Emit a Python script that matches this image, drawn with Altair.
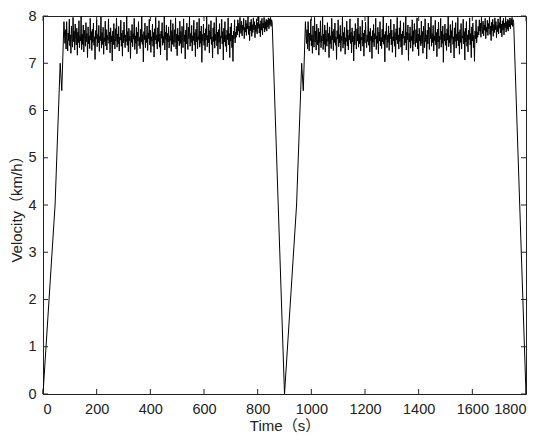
import altair as alt
import pandas as pd

# ---- data -----------------------------------------------------------------
# start-up ramp of one cycle (time s, velocity km/h)
ramp_t = [0, 45, 64, 70, 78]
ramp_v = [0.0, 4.0, 7.0, 6.42, 7.88]

# noisy cruising part of one cycle, sampled every 2 s from 82 s to 854 s
cruise_v = [
    7.42, 7.71, 7.30, 7.88, 7.55, 7.26, 7.64, 7.48, 7.93, 7.37, 7.60, 7.21, 7.79, 7.52, 7.34, 7.97, 7.45, 7.68, 7.28, 7.83,
    7.50, 7.39, 7.74, 7.17, 7.66, 7.44, 7.90, 7.33, 7.58, 7.47, 7.99, 7.29, 7.62, 7.40, 7.81, 7.24, 7.70, 7.53, 7.36, 7.86,
    7.46, 7.63, 7.12, 7.77, 7.41, 7.58, 7.31, 7.95, 7.49, 7.67, 7.27, 7.72, 7.44, 7.85, 7.38, 7.56, 7.08, 7.69, 7.51, 7.92,
    7.35, 7.61, 7.43, 7.80, 7.25, 7.57, 7.48, 7.98, 7.32, 7.65, 7.40, 7.76, 7.19, 7.54, 7.46, 7.89, 7.37, 7.71, 7.28, 7.59,
    7.50, 7.94, 7.42, 7.66, 7.22, 7.75, 7.45, 7.58, 7.05, 7.68, 7.39, 7.84, 7.52, 7.30, 7.73, 7.47, 7.96, 7.34, 7.62, 7.41,
    7.78, 7.26, 7.55, 7.49, 7.91, 7.36, 7.64, 7.15, 7.70, 7.43, 7.87, 7.53, 7.33, 7.60, 7.46, 8.00, 7.38, 7.67, 7.24, 7.74,
    7.48, 7.57, 7.10, 7.69, 7.44, 7.82, 7.35, 7.63, 7.51, 7.95, 7.29, 7.58, 7.42, 7.76, 7.20, 7.66, 7.47, 7.88, 7.37, 7.55,
    7.31, 7.72, 7.45, 7.99, 7.40, 7.61, 7.03, 7.67, 7.50, 7.85, 7.33, 7.59, 7.44, 7.79, 7.27, 7.64, 7.52, 7.93, 7.39, 7.70,
    7.23, 7.56, 7.47, 7.83, 7.36, 7.65, 7.13, 7.73, 7.49, 7.97, 7.41, 7.60, 7.30, 7.75, 7.46, 7.90, 7.34, 7.62, 7.18, 7.68,
    7.53, 7.86, 7.38, 7.57, 7.43, 7.99, 7.28, 7.66, 7.50, 7.81, 7.06, 7.63, 7.45, 7.77, 7.32, 7.58, 7.48, 7.92, 7.25, 7.69,
    7.40, 7.84, 7.51, 7.35, 7.71, 7.44, 7.96, 7.30, 7.62, 7.16, 7.74, 7.47, 7.59, 7.37, 7.89, 7.42, 7.67, 7.21, 7.78, 7.54,
    7.33, 7.94, 7.46, 7.60, 7.09, 7.70, 7.41, 7.85, 7.49, 7.29, 7.76, 7.52, 7.98, 7.36, 7.63, 7.44, 7.80, 7.26, 7.58, 7.48,
    7.91, 7.39, 7.65, 7.14, 7.72, 7.45, 7.87, 7.31, 7.57, 7.50, 7.95, 7.34, 7.68, 7.42, 7.79, 7.02, 7.61, 7.47, 7.83, 7.38,
    7.64, 7.27, 7.73, 7.49, 7.99, 7.35, 7.59, 7.43, 7.82, 7.22, 7.69, 7.51, 7.90, 7.40, 7.56, 7.11, 7.75, 7.46, 7.86, 7.32,
    7.62, 7.48, 7.97, 7.37, 7.66, 7.19, 7.71, 7.44, 7.84, 7.30, 7.58, 7.53, 7.93, 7.41, 7.67, 7.07, 7.74, 7.45, 7.88, 7.36,
    7.60, 7.24, 7.70, 7.50, 7.96, 7.39, 7.63, 7.12, 7.77, 7.47, 7.85, 7.33, 7.59, 7.04, 7.68, 7.52, 7.92, 7.43, 7.66, 7.55,
    # calmer stretch before the stop
    7.78, 7.60, 7.92, 7.68, 7.85, 7.55, 7.97, 7.72, 7.63, 7.89, 7.58, 7.81, 7.70, 7.95, 7.52, 7.76, 7.66, 7.91, 7.59, 7.84,
    7.73, 7.98, 7.61, 7.79, 7.48, 7.87, 7.69, 7.93, 7.57, 7.82, 7.65, 7.96, 7.71, 7.88, 7.54, 7.80, 7.67, 7.94, 7.62, 7.86,
    7.74, 7.99, 7.64, 7.83, 7.56, 7.90, 7.70, 7.95, 7.60, 7.85, 7.75, 7.97, 7.66, 7.88, 7.72, 7.93, 7.68, 7.91, 7.77, 7.96,
    7.73, 7.94, 7.81, 7.97, 7.78, 7.92, 7.86,
]
cruise_start = 82
cruise_step = 2
cycle_end_t = 900      # velocity back to 0 at end of each cycle
cycle_starts = [0, 900]

x_ticks = [0, 200, 400, 600, 800, 1000, 1200, 1400, 1600, 1800]
y_ticks = [0, 1, 2, 3, 4, 5, 6, 7, 8]

# ---- build table ------------------------------------------------------------
rows = []
for c0 in cycle_starts:
    for t, v in zip(ramp_t, ramp_v):
        rows.append((c0 + t, v))
    for i, v in enumerate(cruise_v):
        rows.append((c0 + cruise_start + i * cruise_step, v))
    rows.append((c0 + cycle_end_t, 0.0))
df = pd.DataFrame(rows, columns=["t", "v"]).drop_duplicates("t", keep="last")

W, H = 483, 378
FONT = "Liberation Sans, Arial, Noto Sans CJK SC"

xs = alt.Scale(domain=[0, 1800], nice=False)
ys = alt.Scale(domain=[0, 8], nice=False)

x_axis = alt.Axis(values=x_ticks, format="d", ticks=False, domain=False, grid=False,
                  labelPadding=8, titlePadding=3)
y_axis = alt.Axis(values=y_ticks, format="d", ticks=False, domain=False, grid=False,
                  labelPadding=7, titlePadding=3)

line = alt.Chart(df).mark_line(color="black", strokeWidth=1).encode(
    x=alt.X("t:Q", scale=xs, title="Time（s）", axis=x_axis),
    y=alt.Y("v:Q", scale=ys, title="Velocity（km/h）", axis=y_axis),
)

xt = pd.DataFrame({"t": x_ticks})
yt = pd.DataFrame({"v": y_ticks})
tick_color = "#222222"
bx = alt.Chart(xt).mark_rule(color=tick_color, strokeWidth=1).encode(
    x=alt.X("t:Q", scale=xs, title="Time（s）", axis=x_axis), y=alt.value(H), y2=alt.value(H - 5))
tx = alt.Chart(xt).mark_rule(color=tick_color, strokeWidth=1).encode(
    x=alt.X("t:Q", scale=xs, title="Time（s）", axis=x_axis), y=alt.value(0), y2=alt.value(5))
ly = alt.Chart(yt).mark_rule(color=tick_color, strokeWidth=1).encode(
    y=alt.Y("v:Q", scale=ys, title="Velocity（km/h）", axis=y_axis), x=alt.value(0), x2=alt.value(5))
ry = alt.Chart(yt).mark_rule(color=tick_color, strokeWidth=1).encode(
    y=alt.Y("v:Q", scale=ys, title="Velocity（km/h）", axis=y_axis), x=alt.value(W), x2=alt.value(W - 5))

chart = alt.layer(line, bx, tx, ly, ry).properties(
    width=W, height=H,
    autosize=alt.AutoSizeParams(type="none"),
    padding={"left": 35, "top": 8, "right": 10, "bottom": 48},
).configure_view(
    stroke="#222222", strokeWidth=1
).configure_axis(
    labelFont=FONT, titleFont=FONT, labelFontSize=14.5, titleFontSize=15,
    labelColor="#222222", titleColor="#222222", titleFontWeight="normal",
)

chart.save("out.html", embed_options={"renderer": "svg", "actions": False})
